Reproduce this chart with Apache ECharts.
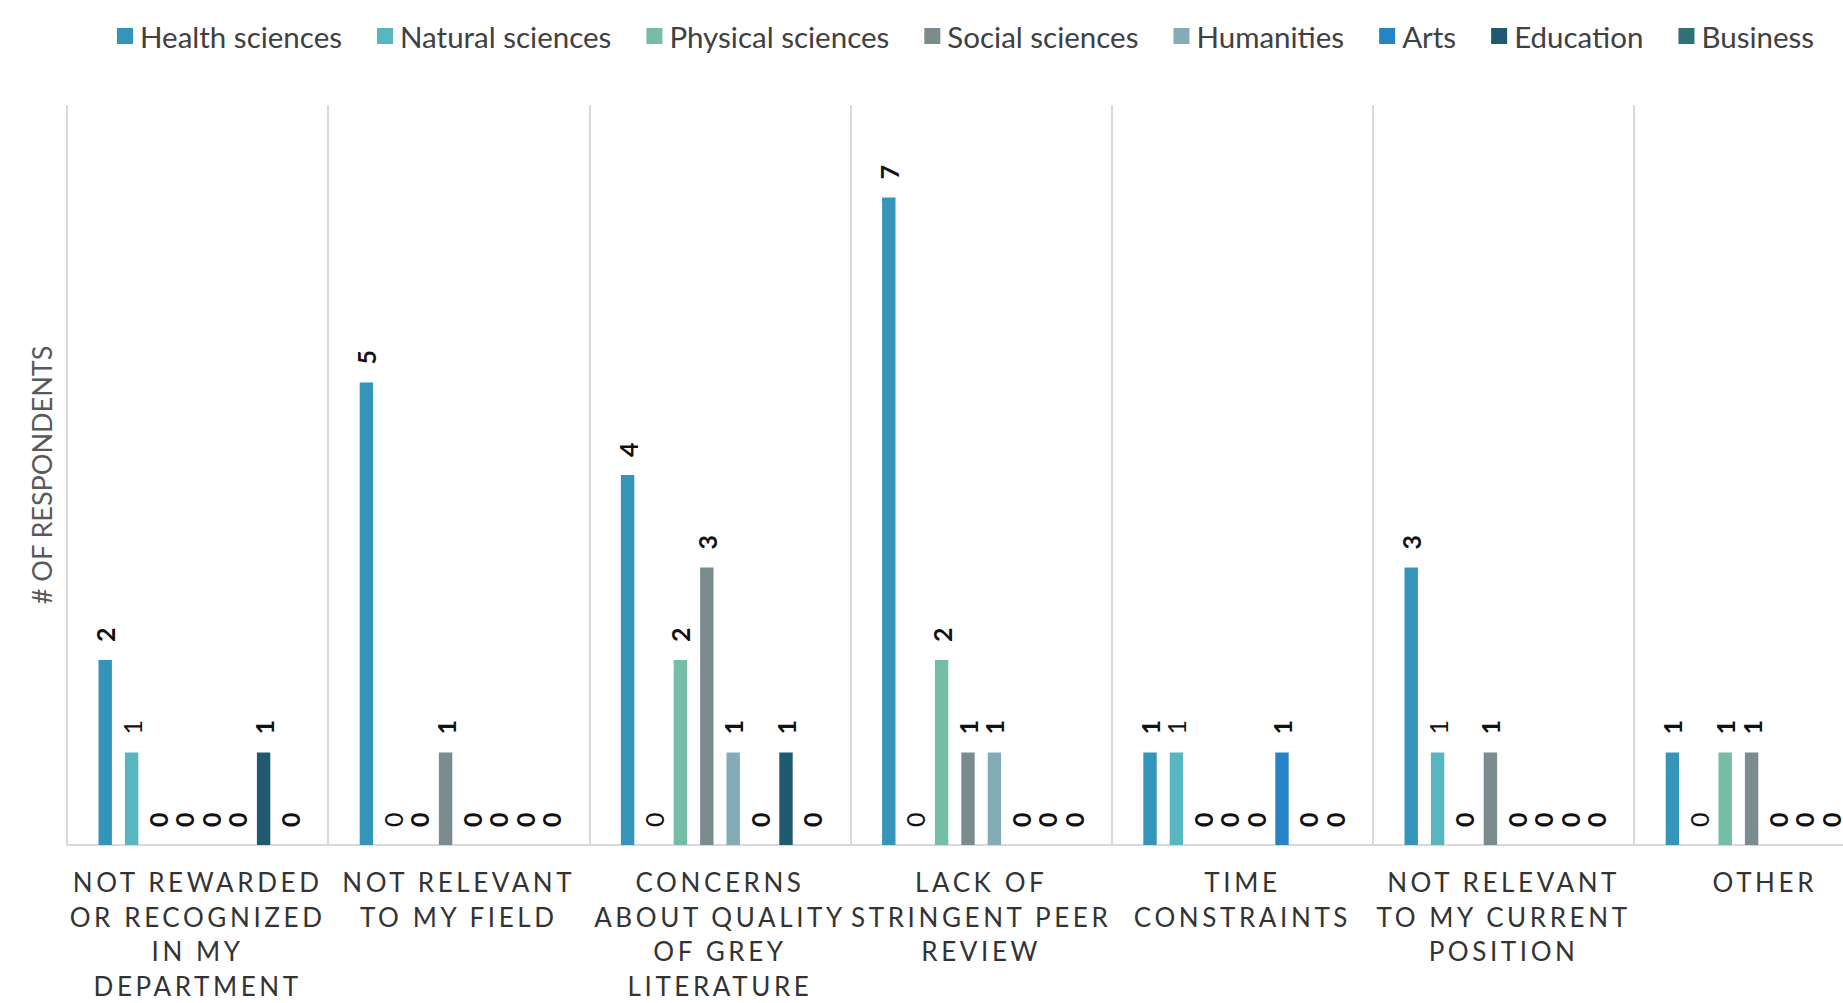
<!DOCTYPE html>
<html>
<head>
<meta charset="utf-8">
<script src="https://cdn.jsdelivr.net/npm/echarts@6/dist/echarts.min.js"></script>
<style>
  html, body { margin: 0; padding: 0; background: #ffffff; overflow: hidden; width: 1843px; height: 1003px; }
  #chart { width: 1896px; height: 1003px; }
</style>
</head>
<body>
<div id="chart"></div>
<script>
// ---- Data ----
const categories = [
  'Not rewarded or recognized in my department',
  'Not relevant to my field',
  'Concerns about quality of grey literature',
  'Lack of stringent peer review',
  'Time constraints',
  'Not relevant to my current position',
  'Other'
];
const tickLabels = [
  'NOT REWARDED\nOR RECOGNIZED\nIN MY\nDEPARTMENT',
  'NOT RELEVANT\nTO MY FIELD',
  'CONCERNS\nABOUT QUALITY\nOF GREY\nLITERATURE',
  'LACK OF\nSTRINGENT PEER\nREVIEW',
  'TIME\nCONSTRAINTS',
  'NOT RELEVANT\nTO MY CURRENT\nPOSITION',
  'OTHER'
];
const seriesNames = ['Health sciences', 'Natural sciences', 'Physical sciences', 'Social sciences', 'Humanities', 'Arts', 'Education', 'Business'];
const healthSciences   = [2, 5, 4, 7, 1, 3, 1];
const naturalSciences  = [1, 0, 0, 0, 1, 1, 0];
const physicalSciences = [0, 0, 2, 2, 0, 0, 1];
const socialSciences   = [0, 1, 3, 1, 0, 1, 1];
const humanities       = [0, 0, 1, 1, 0, 0, 0];
const arts             = [0, 0, 0, 0, 1, 0, 0];
const education        = [1, 0, 1, 0, 0, 0, 0];
const business         = [0, 0, 0, 0, 0, 0, 0];
const yAxisTitle = '# OF RESPONDENTS';

const seriesValues = [healthSciences, naturalSciences, physicalSciences, socialSciences, humanities, arts, education, business];
const colors = ['#3494BA', '#58B6C0', '#75BDA7', '#7A8C8E', '#84ACB6', '#2683C6', '#1F5A70', '#2E7277'];

const chart = echarts.init(document.getElementById('chart'), null, { renderer: 'svg' });

const series = seriesNames.map((name, i) => ({
  name: name,
  type: 'bar',
  data: seriesValues[i],
  barWidth: 13.4,
  barGap: '97%',
  itemStyle: { color: colors[i] },
  label: {
    show: true,
    position: 'top',
    rotate: 90,
    align: 'left',
    verticalAlign: 'middle',
    distance: 18,
    fontFamily: 'Lato',
    fontSize: 25,
    fontWeight: i === 1 ? 'normal' : 'bold',
    color: '#111111'
  }
}));

chart.setOption({
  animation: false,
  backgroundColor: '#ffffff',
  color: colors,
  legend: {
    data: seriesNames,
    left: 112,
    top: 16,
    icon: 'rect',
    itemWidth: 16,
    itemHeight: 16,
    itemGap: 35,
    textStyle: { fontFamily: 'Lato', fontSize: 29.5, color: '#404040', padding: [0, 0, 0, 2] }
  },
  grid: { left: 67, right: 0.6, top: 105, bottom: 154, containLabel: false },
  xAxis: {
    type: 'category',
    data: categories,
    boundaryGap: true,
    axisLine: { show: true, lineStyle: { color: '#d9d9d9', width: 2 } },
    axisTick: { show: false },
    splitLine: { show: true, interval: 0, lineStyle: { color: '#d9d9d9', width: 2 } },
    axisLabel: {
      interval: 0,
      margin: 20,
      formatter: (v, idx) => tickLabels[idx],
      fontFamily: 'Lato',
      fontSize: 26,
      lineHeight: 34.5,
      color: '#333333',
      align: 'center'
    }
  },
  yAxis: {
    type: 'value',
    min: 0,
    max: 8,
    interval: 1,
    axisLine: { show: false },
    axisTick: { show: false },
    axisLabel: { show: false },
    splitLine: { show: false },
    name: yAxisTitle,
    nameLocation: 'middle',
    nameGap: 12,
    nameTextStyle: { fontFamily: 'Lato', fontSize: 27, color: '#595959' }
  },
  series: series
});

// Widen the letter spacing of the category tick labels (as in the reference).
const tickLines = new Set();
tickLabels.forEach(t => t.split('\n').forEach(l => tickLines.add(l)));
document.querySelectorAll('#chart svg text').forEach(el => {
  if (tickLines.has(el.textContent)) {
    el.style.letterSpacing = '3.6px';
  }
});
</script>
</body>
</html>
